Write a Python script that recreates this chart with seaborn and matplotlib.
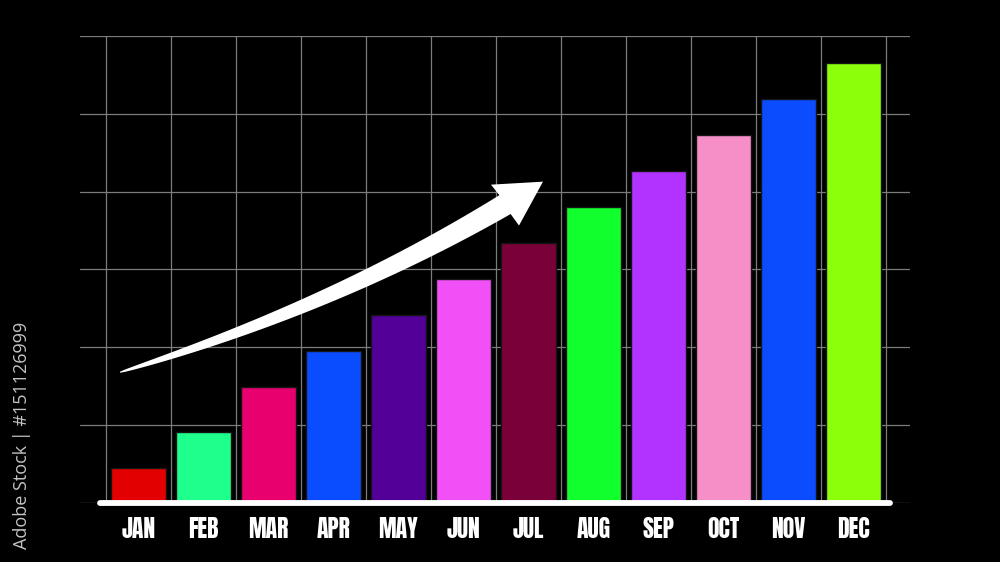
import numpy as np
import matplotlib
matplotlib.use("Agg")
import matplotlib.pyplot as plt
import seaborn as sns
import pandas as pd

# Dados (unidade: 10 = uma linha de grade)
meses = ['JAN', 'FEB', 'MAR', 'APR', 'MAY', 'JUN', 'JUL', 'AUG', 'SEP', 'OCT', 'NOV', 'DEC']
valores = [4.5, 9.1, 14.9, 19.5, 24.1, 28.8, 33.4, 38.0, 42.7, 47.3, 51.9, 56.5]
cores = ['#e30000', '#1eff8c', '#e8006f', '#0a4cff', '#530099', '#f050f5',
         '#7a003a', '#12ff2e', '#b232ff', '#f68fc8', '#0b4cff', '#8cff0a']

sns.set_theme(style='dark')
fonte_meses = ['Anton', 'Oswald', 'Bebas Neue', 'Roboto Condensed', 'DejaVu Sans']
plt.rcParams['font.family'] = ['DejaVu Sans']

fig = plt.figure(figsize=(10, 5.62), dpi=100)
fig.patch.set_facecolor('black')
ax = fig.add_axes([0.08, 0.105, 0.83, 0.831])
ax.set_facecolor('black')

df = pd.DataFrame({'mes': meses, 'valor': valores})
sns.barplot(data=df, x='mes', y='valor', hue='mes', palette=cores, legend=False,
            width=0.86, edgecolor='#151515', linewidth=1, saturation=1, ax=ax, zorder=3)

# limites em coordenadas de pixel da imagem original
x0 = (80 - 138.5) / 65
x1 = (910 - 138.5) / 65
ax.set_xlim(x0, x1)
ax.set_ylim(0, 60)

# grade
for y in range(0, 61, 10):
    ax.axhline(y, color='#7c7c7c', lw=0.9, zorder=1)
for x in np.arange(-0.5, 12, 1):
    ax.plot([x, x], [0, 60], color='#7c7c7c', lw=0.9, zorder=1)

# linha base branca
ax.plot([(100 - 138.5) / 65, (890 - 138.5) / 65], [0, 0], color='white', lw=4.2,
        solid_capstyle='round', zorder=5, clip_on=False)

# seta curva (construída em pixels e convertida para dados)
def px2data(px, py):
    return (np.asarray(px) - 138.5) / 65, (503 - np.asarray(py)) / 7.8

p0 = np.array([120, 372])
p1 = np.array([332, 307])
p2 = np.array([505, 204])
t = np.linspace(0, 1, 100)
curva = ((1 - t)[:, None] ** 2) * p0 + (2 * (1 - t) * t)[:, None] * p1 + (t[:, None] ** 2) * p2
tang = (2 * (1 - t))[:, None] * (p1 - p0) + (2 * t)[:, None] * (p2 - p1)
tang = tang / np.linalg.norm(tang, axis=1)[:, None]
normal = np.column_stack([-tang[:, 1], tang[:, 0]])
meia = 0.5 + 10.5 * t ** 0.65
sup = curva + normal * meia[:, None]
inf = curva - normal * meia[:, None]
cabeca = np.array([[519, 225], [543, 181], [491, 184]])
poly = np.vstack([sup, cabeca, inf[::-1]])
ax_x, ax_y = px2data(poly[:, 0], poly[:, 1])
ax.fill(ax_x, ax_y, color='white', zorder=6, lw=0)

# rótulos dos meses
ax.set_xticks(range(len(meses)))
ax.set_xticklabels(meses, color='white', fontsize=17, family=fonte_meses)
ax.tick_params(axis='x', length=0, pad=10)
ax.set_yticks([])
ax.set_xlabel('')
ax.set_ylabel('')
for s in ax.spines.values():
    s.set_visible(False)

# marca vertical à esquerda
fig.text(0.022, 1 - 322 / 562, 'Adobe Stock | #151126999', rotation=90,
         rotation_mode='anchor', ha='right', va='center', color='#c4c4c4',
         fontsize=13, family=['Open Sans', 'DejaVu Sans'])

fig.savefig('out.png', dpi=100, facecolor='black')
